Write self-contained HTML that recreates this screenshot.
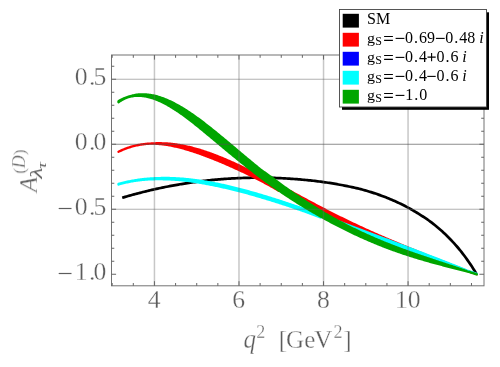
<!DOCTYPE html>
<html><head><meta charset="utf-8"><title>plot</title>
<style>html,body{margin:0;padding:0;background:#fff;}svg{display:block;}text{font-family:"Liberation Serif",serif;}.ax text{stroke:#fff;stroke-width:0.3px;}</style></head><body>
<svg width="500" height="367" viewBox="0 0 500 367">
<rect x="0" y="0" width="500" height="367" fill="#fff"/>
<path d="M122.20,197.79 L123.68,197.35 L125.16,196.91 L126.64,196.48 L128.12,196.05 L129.61,195.63 L131.09,195.21 L132.57,194.80 L134.05,194.39 L135.53,193.99 L137.01,193.60 L138.49,193.21 L139.97,192.82 L141.46,192.44 L142.94,192.06 L144.42,191.69 L145.90,191.33 L147.38,190.97 L148.86,190.61 L150.34,190.26 L151.82,189.92 L153.30,189.58 L154.79,189.24 L156.27,188.91 L157.75,188.59 L159.23,188.27 L160.71,187.95 L162.19,187.64 L163.67,187.33 L165.15,187.03 L166.64,186.74 L168.12,186.45 L169.60,186.16 L171.08,185.88 L172.56,185.60 L174.04,185.33 L175.52,185.07 L177.00,184.80 L178.48,184.55 L179.97,184.29 L181.45,184.05 L182.93,183.81 L184.41,183.57 L185.89,183.33 L187.37,183.11 L188.85,182.88 L190.33,182.67 L191.82,182.45 L193.30,182.24 L194.78,182.04 L196.26,181.84 L197.74,181.64 L199.22,181.45 L200.70,181.27 L202.18,181.09 L203.66,180.91 L205.15,180.74 L206.63,180.58 L208.11,180.41 L209.59,180.26 L211.07,180.11 L212.55,179.96 L214.03,179.81 L215.51,179.68 L216.99,179.54 L218.48,179.41 L219.96,179.29 L221.44,179.17 L222.92,179.06 L224.40,178.95 L225.88,178.84 L227.36,178.74 L228.84,178.64 L230.33,178.55 L231.81,178.46 L233.29,178.38 L234.77,178.30 L236.25,178.23 L237.73,178.16 L239.21,178.10 L240.69,178.04 L242.17,177.99 L243.66,177.94 L245.14,177.89 L246.62,177.85 L248.10,177.81 L249.58,177.78 L251.06,177.76 L252.54,177.73 L254.02,177.72 L255.51,177.70 L256.99,177.69 L258.47,177.69 L259.95,177.69 L261.43,177.70 L262.91,177.71 L264.39,177.72 L265.87,177.74 L267.35,177.77 L268.84,177.79 L270.32,177.83 L271.80,177.86 L273.28,177.91 L274.76,177.95 L276.24,178.01 L277.72,178.06 L279.20,178.12 L280.69,178.19 L282.17,178.26 L283.65,178.33 L285.13,178.41 L286.61,178.50 L288.09,178.59 L289.57,178.68 L291.05,178.78 L292.53,178.88 L294.02,178.99 L295.50,179.10 L296.98,179.22 L298.46,179.34 L299.94,179.46 L301.42,179.59 L302.90,179.72 L304.38,179.85 L305.87,179.99 L307.35,180.14 L308.83,180.29 L310.31,180.44 L311.79,180.60 L313.27,180.77 L314.75,180.94 L316.23,181.11 L317.71,181.30 L319.20,181.48 L320.68,181.67 L322.16,181.87 L323.64,182.08 L325.12,182.29 L326.60,182.50 L328.08,182.72 L329.56,182.95 L331.05,183.19 L332.53,183.43 L334.01,183.67 L335.49,183.93 L336.97,184.19 L338.45,184.46 L339.93,184.73 L341.41,185.01 L342.89,185.30 L344.38,185.60 L345.86,185.89 L347.34,186.17 L348.82,186.47 L350.30,186.77 L351.78,187.08 L353.26,187.40 L354.74,187.73 L356.23,188.07 L357.71,188.42 L359.19,188.77 L360.67,189.15 L362.15,189.55 L363.63,189.95 L365.11,190.37 L366.59,190.80 L368.07,191.24 L369.56,191.69 L371.04,192.15 L372.52,192.62 L374.00,193.10 L375.48,193.59 L376.96,194.09 L378.44,194.61 L379.92,195.13 L381.41,195.67 L382.89,196.22 L384.37,196.78 L385.85,197.35 L387.33,197.94 L388.81,198.54 L390.29,199.15 L391.77,199.78 L393.25,200.42 L394.74,201.07 L396.22,201.74 L397.70,202.42 L399.18,203.12 L400.66,203.83 L402.14,204.56 L403.62,205.30 L405.10,206.06 L406.58,206.84 L408.07,207.63 L409.55,208.44 L411.03,209.26 L412.51,210.11 L413.99,210.97 L415.47,211.85 L416.95,212.76 L418.43,213.68 L419.92,214.62 L421.40,215.55 L422.88,216.49 L424.36,217.46 L425.84,218.44 L427.32,219.46 L428.80,220.49 L430.28,221.56 L431.76,222.69 L433.25,223.84 L434.73,225.01 L436.21,226.22 L437.69,227.45 L439.17,228.71 L440.65,230.01 L442.13,231.33 L443.61,232.69 L445.10,234.08 L446.58,235.50 L448.06,236.96 L449.54,238.46 L451.02,239.99 L452.50,241.56 L453.98,243.17 L455.46,244.82 L456.94,246.51 L458.43,248.25 L459.91,250.02 L461.39,251.89 L462.87,253.81 L464.35,255.78 L465.83,257.80 L467.31,259.86 L468.79,261.98 L470.28,264.14 L471.76,266.36 L473.24,268.64 L474.72,270.97 L476.20,273.35" fill="none" stroke="#000" stroke-width="2.7" stroke-linecap="butt" stroke-linejoin="round"/>
<path d="M118.50,151.78 L119.50,151.29 L120.49,150.82 L121.49,150.36 L122.48,149.92 L123.48,149.50 L124.47,149.09 L125.47,148.70 L126.46,148.33 L127.46,147.97 L128.45,147.63 L129.45,147.30 L130.44,146.99 L131.44,146.69 L132.43,146.40 L133.43,146.14 L134.42,145.88 L135.42,145.64 L136.41,145.41 L137.41,145.20 L138.41,145.00 L139.40,144.82 L140.40,144.64 L141.39,144.48 L142.39,144.33 L143.38,144.20 L144.38,144.08 L145.37,143.97 L146.37,143.87 L147.36,143.78 L148.36,143.71 L149.35,143.64 L150.35,143.59 L151.34,143.53 L152.34,143.47 L153.33,143.41 L154.33,143.36 L155.33,143.33 L156.32,143.30 L157.32,143.29 L158.31,143.28 L159.31,143.29 L160.30,143.30 L161.30,143.31 L162.29,143.33 L163.29,143.36 L164.28,143.40 L165.28,143.45 L166.27,143.51 L167.27,143.57 L168.26,143.65 L169.26,143.73 L170.25,143.82 L171.25,143.92 L172.25,144.03 L173.24,144.15 L174.24,144.27 L175.23,144.41 L176.23,144.55 L177.22,144.69 L178.22,144.85 L179.21,145.01 L180.21,145.18 L181.20,145.36 L182.20,145.55 L183.19,145.74 L184.19,145.94 L185.18,146.15 L186.18,146.36 L187.17,146.58 L188.17,146.81 L189.16,147.04 L190.16,147.28 L191.16,147.53 L192.15,147.78 L193.15,148.04 L194.14,148.30 L195.14,148.57 L196.13,148.85 L197.13,149.13 L198.12,149.42 L199.12,149.72 L200.11,150.02 L201.11,150.33 L202.10,150.64 L203.10,150.96 L204.09,151.29 L205.09,151.62 L206.08,151.96 L207.08,152.30 L208.07,152.64 L209.07,152.99 L210.07,153.35 L211.06,153.71 L212.06,154.08 L213.05,154.45 L214.05,154.82 L215.04,155.20 L216.04,155.58 L217.03,155.97 L218.03,156.36 L219.02,156.75 L220.02,157.15 L221.01,157.56 L222.01,157.96 L223.00,158.38 L224.00,158.79 L224.99,159.21 L225.99,159.63 L226.99,160.06 L227.98,160.48 L228.98,160.92 L229.97,161.35 L230.97,161.79 L231.96,162.23 L232.96,162.68 L233.95,163.13 L234.95,163.58 L235.94,164.03 L236.94,164.49 L237.93,164.95 L238.93,165.41 L239.92,165.87 L240.92,166.34 L241.91,166.81 L242.91,167.28 L243.91,167.76 L244.90,168.23 L245.90,168.71 L246.89,169.19 L247.89,169.68 L248.88,170.16 L249.88,170.65 L250.87,171.13 L251.87,171.61 L252.86,172.10 L253.86,172.58 L254.85,173.07 L255.85,173.56 L256.84,174.05 L257.84,174.54 L258.83,175.04 L259.83,175.53 L260.82,176.03 L261.82,176.53 L262.82,177.02 L263.81,177.52 L264.81,178.03 L265.80,178.53 L266.80,179.03 L267.79,179.54 L268.79,180.04 L269.78,180.55 L270.78,181.06 L271.77,181.56 L272.77,182.07 L273.76,182.58 L274.76,183.09 L275.75,183.60 L276.75,184.11 L277.74,184.63 L278.74,185.14 L279.74,185.65 L280.73,186.16 L281.73,186.68 L282.72,187.19 L283.72,187.71 L284.71,188.22 L285.71,188.73 L286.70,189.25 L287.70,189.76 L288.69,190.28 L289.69,190.79 L290.68,191.32 L291.68,191.86 L292.67,192.40 L293.67,192.94 L294.66,193.48 L295.66,194.02 L296.65,194.56 L297.65,195.10 L298.65,195.64 L299.64,196.17 L300.64,196.71 L301.63,197.25 L302.63,197.78 L303.62,198.32 L304.62,198.86 L305.61,199.39 L306.61,199.93 L307.60,200.46 L308.60,200.99 L309.59,201.52 L310.59,202.06 L311.58,202.59 L312.58,203.12 L313.57,203.65 L314.57,204.18 L315.56,204.70 L316.56,205.23 L317.56,205.76 L318.55,206.28 L319.55,206.81 L320.54,207.33 L321.54,207.85 L322.53,208.37 L323.53,208.89 L324.52,209.41 L325.52,209.93 L326.51,210.45 L327.51,210.97 L328.50,211.48 L329.50,212.00 L330.49,212.50 L331.49,213.00 L332.48,213.51 L333.48,214.00 L334.48,214.50 L335.47,215.00 L336.47,215.50 L337.46,215.99 L338.46,216.48 L339.45,216.97 L340.45,217.46 L341.44,217.95 L342.44,218.44 L343.43,218.93 L344.43,219.41 L345.42,219.90 L346.42,220.38 L347.41,220.86 L348.41,221.34 L349.40,221.82 L350.40,222.30 L351.39,222.77 L352.39,223.24 L353.39,223.72 L354.38,224.19 L355.38,224.66 L356.37,225.13 L357.37,225.59 L358.36,226.06 L359.36,226.52 L360.35,226.98 L361.35,227.45 L362.34,227.91 L363.34,228.36 L364.33,228.82 L365.33,229.28 L366.32,229.73 L367.32,230.18 L368.31,230.63 L369.31,231.08 L370.31,231.53 L371.30,231.98 L372.30,232.42 L373.29,232.86 L374.29,233.31 L375.28,233.75 L376.28,234.19 L377.27,234.62 L378.27,235.06 L379.26,235.50 L380.26,235.93 L381.25,236.36 L382.25,236.79 L383.24,237.22 L384.24,237.65 L385.23,238.08 L386.23,238.50 L387.23,238.93 L388.22,239.35 L389.22,239.77 L390.21,240.19 L391.21,240.61 L392.20,241.03 L393.20,241.44 L394.19,241.86 L395.19,242.27 L396.18,242.69 L397.18,243.10 L398.17,243.51 L399.17,243.92 L400.16,244.33 L401.16,244.75 L402.15,245.17 L403.15,245.59 L404.14,246.00 L405.14,246.42 L406.14,246.83 L407.13,247.25 L408.13,247.66 L409.12,248.07 L410.12,248.49 L411.11,248.90 L412.11,249.30 L413.10,249.71 L414.10,250.12 L415.09,250.53 L416.09,250.93 L417.08,251.34 L418.08,251.74 L419.07,252.15 L420.07,252.55 L421.06,252.95 L422.06,253.36 L423.06,253.76 L424.05,254.16 L425.05,254.56 L426.04,254.96 L427.04,255.36 L428.03,255.76 L429.03,256.16 L430.02,256.56 L431.02,256.94 L432.01,257.33 L433.01,257.72 L434.00,258.11 L435.00,258.50 L435.99,258.89 L436.99,259.27 L437.98,259.66 L438.98,260.05 L439.97,260.44 L440.97,260.83 L441.97,261.21 L442.96,261.60 L443.96,261.99 L444.95,262.37 L445.95,262.74 L446.94,263.12 L447.94,263.50 L448.93,263.88 L449.93,264.25 L450.92,264.63 L451.92,265.01 L452.91,265.39 L453.91,265.77 L454.90,266.15 L455.90,266.53 L456.89,266.92 L457.89,267.30 L458.88,267.68 L459.88,268.07 L460.88,268.45 L461.87,268.84 L462.87,269.23 L463.86,269.62 L464.86,270.01 L465.85,270.40 L466.85,270.79 L467.84,271.15 L468.84,271.48 L469.83,271.81 L470.83,272.14 L471.82,272.48 L472.82,272.82 L473.81,273.15 L474.81,273.49 L475.80,273.83 L476.80,274.18 L476.80,274.18 L475.80,273.83 L474.81,273.49 L473.81,273.15 L472.82,272.82 L471.82,272.48 L470.83,272.14 L469.83,271.81 L468.84,271.48 L467.84,271.15 L466.85,270.79 L465.85,270.40 L464.86,270.01 L463.86,269.62 L462.87,269.23 L461.87,268.84 L460.88,268.45 L459.88,268.07 L458.88,267.68 L457.89,267.30 L456.89,266.92 L455.90,266.53 L454.90,266.15 L453.91,265.77 L452.91,265.39 L451.92,265.01 L450.92,264.63 L449.93,264.25 L448.93,263.88 L447.94,263.50 L446.94,263.12 L445.95,262.74 L444.95,262.37 L443.96,261.99 L442.96,261.63 L441.97,261.26 L440.97,260.90 L439.97,260.54 L438.98,260.17 L437.98,259.81 L436.99,259.44 L435.99,259.08 L435.00,258.72 L434.00,258.35 L433.01,257.99 L432.01,257.62 L431.02,257.26 L430.02,256.90 L429.03,256.52 L428.03,256.15 L427.04,255.77 L426.04,255.40 L425.05,255.02 L424.05,254.64 L423.06,254.27 L422.06,253.89 L421.06,253.51 L420.07,253.13 L419.07,252.75 L418.08,252.37 L417.08,251.99 L416.09,251.61 L415.09,251.23 L414.10,250.85 L413.10,250.46 L412.11,250.08 L411.11,249.69 L410.12,249.31 L409.12,248.92 L408.13,248.53 L407.13,248.14 L406.14,247.75 L405.14,247.36 L404.14,246.97 L403.15,246.58 L402.15,246.18 L401.16,245.79 L400.16,245.39 L399.17,245.01 L398.17,244.62 L397.18,244.23 L396.18,243.85 L395.19,243.46 L394.19,243.07 L393.20,242.68 L392.20,242.29 L391.21,241.89 L390.21,241.50 L389.22,241.10 L388.22,240.70 L387.23,240.30 L386.23,239.90 L385.23,239.50 L384.24,239.10 L383.24,238.70 L382.25,238.29 L381.25,237.88 L380.26,237.48 L379.26,237.07 L378.27,236.66 L377.27,236.24 L376.28,235.83 L375.28,235.41 L374.29,235.00 L373.29,234.58 L372.30,234.16 L371.30,233.74 L370.31,233.32 L369.31,232.89 L368.31,232.47 L367.32,232.04 L366.32,231.61 L365.33,231.18 L364.33,230.75 L363.34,230.32 L362.34,229.89 L361.35,229.45 L360.35,229.01 L359.36,228.58 L358.36,228.14 L357.37,227.70 L356.37,227.25 L355.38,226.81 L354.38,226.36 L353.39,225.92 L352.39,225.47 L351.39,225.02 L350.40,224.57 L349.40,224.11 L348.41,223.66 L347.41,223.20 L346.42,222.75 L345.42,222.29 L344.43,221.83 L343.43,221.37 L342.44,220.91 L341.44,220.44 L340.45,219.98 L339.45,219.51 L338.46,219.04 L337.46,218.57 L336.47,218.10 L335.47,217.63 L334.48,217.16 L333.48,216.69 L332.48,216.21 L331.49,215.73 L330.49,215.26 L329.50,214.77 L328.50,214.28 L327.51,213.79 L326.51,213.30 L325.52,212.81 L324.52,212.31 L323.53,211.82 L322.53,211.32 L321.54,210.82 L320.54,210.33 L319.55,209.83 L318.55,209.33 L317.56,208.83 L316.56,208.32 L315.56,207.82 L314.57,207.32 L313.57,206.81 L312.58,206.31 L311.58,205.80 L310.59,205.29 L309.59,204.79 L308.60,204.28 L307.60,203.77 L306.61,203.26 L305.61,202.75 L304.62,202.24 L303.62,201.73 L302.63,201.21 L301.63,200.70 L300.64,200.19 L299.64,199.68 L298.65,199.16 L297.65,198.65 L296.65,198.13 L295.66,197.62 L294.66,197.10 L293.67,196.59 L292.67,196.07 L291.68,195.56 L290.68,195.04 L289.69,194.54 L288.69,194.05 L287.70,193.56 L286.70,193.06 L285.71,192.57 L284.71,192.08 L283.72,191.59 L282.72,191.10 L281.73,190.61 L280.73,190.12 L279.74,189.64 L278.74,190.74 L277.74,190.15 L276.75,189.56 L275.75,188.97 L274.76,188.39 L273.76,187.82 L272.77,187.25 L271.77,186.68 L270.78,186.12 L269.78,185.56 L268.79,185.01 L267.79,184.46 L266.80,183.91 L265.80,183.37 L264.81,182.83 L263.81,182.30 L262.82,181.77 L261.82,181.24 L260.82,180.72 L259.83,180.20 L258.83,179.68 L257.84,179.16 L256.84,178.65 L255.85,178.14 L254.85,177.64 L253.86,177.14 L252.86,176.64 L251.87,176.14 L250.87,175.65 L249.88,175.16 L248.88,174.67 L247.89,174.18 L246.89,173.70 L245.90,173.22 L244.90,172.74 L243.91,172.27 L242.91,171.79 L241.91,171.32 L240.92,170.86 L239.92,170.39 L238.93,169.93 L237.93,169.47 L236.94,169.01 L235.94,168.55 L234.95,168.10 L233.95,167.65 L232.96,167.20 L231.96,166.75 L230.97,166.30 L229.97,165.86 L228.98,165.42 L227.98,164.98 L226.99,164.55 L225.99,164.12 L224.99,163.69 L224.00,163.26 L223.00,162.83 L222.01,162.41 L221.01,161.99 L220.02,161.57 L219.02,161.16 L218.03,160.74 L217.03,160.33 L216.04,159.92 L215.04,159.52 L214.05,159.12 L213.05,158.72 L212.06,158.32 L211.06,157.93 L210.07,157.54 L209.07,157.15 L208.07,156.77 L207.08,156.39 L206.08,156.01 L205.09,155.64 L204.09,155.26 L203.10,154.90 L202.10,154.53 L201.11,154.17 L200.11,153.82 L199.12,153.47 L198.12,153.12 L197.13,152.77 L196.13,152.43 L195.14,152.10 L194.14,151.77 L193.15,151.44 L192.15,151.12 L191.16,150.80 L190.16,150.49 L189.16,150.18 L188.17,149.88 L187.17,149.58 L186.18,149.29 L185.18,149.00 L184.19,148.72 L183.19,148.44 L182.20,148.17 L181.20,147.91 L180.21,147.65 L179.21,147.40 L178.22,147.15 L177.22,146.92 L176.23,146.68 L175.23,146.46 L174.24,146.24 L173.24,146.03 L172.25,145.83 L171.25,145.63 L170.25,145.44 L169.26,145.26 L168.26,145.09 L167.27,144.93 L166.27,144.77 L165.28,144.62 L164.28,144.49 L163.29,144.36 L162.29,144.24 L161.30,144.12 L160.30,144.02 L159.31,143.93 L158.31,143.85 L157.32,143.78 L156.32,143.72 L155.33,143.67 L154.33,143.63 L153.33,143.60 L152.34,143.58 L151.34,143.57 L150.35,143.59 L149.35,143.64 L148.36,143.71 L147.36,143.78 L146.37,143.87 L145.37,143.97 L144.38,144.08 L143.38,144.20 L142.39,144.33 L141.39,144.48 L140.40,144.64 L139.40,144.82 L138.41,145.00 L137.41,145.20 L136.41,145.41 L135.42,145.64 L134.42,145.88 L133.43,146.14 L132.43,146.40 L131.44,146.69 L130.44,146.99 L129.45,147.30 L128.45,147.63 L127.46,147.97 L126.46,148.33 L125.47,148.70 L124.47,149.09 L123.48,149.50 L122.48,149.92 L121.49,150.36 L120.49,150.82 L119.50,151.29 L118.50,151.78Z" fill="#ff0000" stroke="#ff0000" stroke-width="2.4" stroke-linejoin="round"/>
<path d="M118.50,183.92 L119.50,183.64 L120.49,183.38 L121.49,183.12 L122.48,182.87 L123.48,182.63 L124.47,182.40 L125.47,182.17 L126.46,181.95 L127.46,181.73 L128.45,181.52 L129.45,181.32 L130.44,181.12 L131.44,180.94 L132.43,180.75 L133.43,180.58 L134.42,180.41 L135.42,180.24 L136.41,180.09 L137.41,179.94 L138.41,179.79 L139.40,179.65 L140.40,179.52 L141.39,179.39 L142.39,179.27 L143.38,179.16 L144.38,179.05 L145.37,178.95 L146.37,178.85 L147.36,178.76 L148.36,178.68 L149.35,178.60 L150.35,178.52 L151.34,178.45 L152.34,178.39 L153.33,178.33 L154.33,178.28 L155.33,178.23 L156.32,178.19 L157.32,178.15 L158.31,178.12 L159.31,178.10 L160.30,178.08 L161.30,178.06 L162.29,178.04 L163.29,178.03 L164.28,178.03 L165.28,178.03 L166.27,178.03 L167.27,178.04 L168.26,178.05 L169.26,178.07 L170.25,178.10 L171.25,178.13 L172.25,178.16 L173.24,178.20 L174.24,178.24 L175.23,178.29 L176.23,178.34 L177.22,178.39 L178.22,178.45 L179.21,178.52 L180.21,178.59 L181.20,178.66 L182.20,178.74 L183.19,178.82 L184.19,178.90 L185.18,178.99 L186.18,179.08 L187.17,179.18 L188.17,179.28 L189.16,179.39 L190.16,179.50 L191.16,179.61 L192.15,179.73 L193.15,179.85 L194.14,179.97 L195.14,180.10 L196.13,180.23 L197.13,180.37 L198.12,180.51 L199.12,180.65 L200.11,180.79 L201.11,180.94 L202.10,181.10 L203.10,181.25 L204.09,181.41 L205.09,181.57 L206.08,181.74 L207.08,181.91 L208.07,182.08 L209.07,182.26 L210.07,182.44 L211.06,182.62 L212.06,182.80 L213.05,182.99 L214.05,183.18 L215.04,183.38 L216.04,183.57 L217.03,183.77 L218.03,183.98 L219.02,184.18 L220.02,184.39 L221.01,184.60 L222.01,184.81 L223.00,185.03 L224.00,185.25 L224.99,185.47 L225.99,185.70 L226.99,185.92 L227.98,186.15 L228.98,186.39 L229.97,186.62 L230.97,186.86 L231.96,187.10 L232.96,187.34 L233.95,187.58 L234.95,187.83 L235.94,188.08 L236.94,188.33 L237.93,188.58 L238.93,188.84 L239.92,189.10 L240.92,189.36 L241.91,189.62 L242.91,189.88 L243.91,190.15 L244.90,190.42 L245.90,190.69 L246.89,190.96 L247.89,191.23 L248.88,191.51 L249.88,191.79 L250.87,192.06 L251.87,192.34 L252.86,192.63 L253.86,192.91 L254.85,193.20 L255.85,193.48 L256.84,193.77 L257.84,194.06 L258.83,194.36 L259.83,194.65 L260.82,194.94 L261.82,195.24 L262.82,195.54 L263.81,195.84 L264.81,196.14 L265.80,196.45 L266.80,196.75 L267.79,197.06 L268.79,197.36 L269.78,197.67 L270.78,197.98 L271.77,198.30 L272.77,198.61 L273.76,198.92 L274.76,199.24 L275.75,199.56 L276.75,199.87 L277.74,200.19 L278.74,200.51 L279.74,200.84 L280.73,201.16 L281.73,201.48 L282.72,201.81 L283.72,202.14 L284.71,202.46 L285.71,202.79 L286.70,203.12 L287.70,203.45 L288.69,203.78 L289.69,204.12 L290.68,204.45 L291.68,204.78 L292.67,205.12 L293.67,205.46 L294.66,205.79 L295.66,206.13 L296.65,206.47 L297.65,206.81 L298.65,207.15 L299.64,207.49 L300.64,207.84 L301.63,208.19 L302.63,208.54 L303.62,208.89 L304.62,209.24 L305.61,209.59 L306.61,209.94 L307.60,210.30 L308.60,210.65 L309.59,211.00 L310.59,211.36 L311.58,211.71 L312.58,212.07 L313.57,212.43 L314.57,212.79 L315.56,213.14 L316.56,213.50 L317.56,213.86 L318.55,214.22 L319.55,214.58 L320.54,214.94 L321.54,215.30 L322.53,215.67 L323.53,216.03 L324.52,216.39 L325.52,216.75 L326.51,217.12 L327.51,217.48 L328.50,217.84 L329.50,218.21 L330.49,218.57 L331.49,218.94 L332.48,219.31 L333.48,219.67 L334.48,220.04 L335.47,220.40 L336.47,220.77 L337.46,221.14 L338.46,221.51 L339.45,221.87 L340.45,222.24 L341.44,222.61 L342.44,222.98 L343.43,223.35 L344.43,223.72 L345.42,224.09 L346.42,224.46 L347.41,224.83 L348.41,225.20 L349.40,225.57 L350.40,225.94 L351.39,226.31 L352.39,226.68 L353.39,227.05 L354.38,227.42 L355.38,227.79 L356.37,228.17 L357.37,228.54 L358.36,228.91 L359.36,229.28 L360.35,229.65 L361.35,230.03 L362.34,230.40 L363.34,230.77 L364.33,231.15 L365.33,231.52 L366.32,231.89 L367.32,232.27 L368.31,232.64 L369.31,233.01 L370.31,233.39 L371.30,233.76 L372.30,234.13 L373.29,234.51 L374.29,234.88 L375.28,235.26 L376.28,235.63 L377.27,236.00 L378.27,236.38 L379.26,236.75 L380.26,237.13 L381.25,237.50 L382.25,237.88 L383.24,238.25 L384.24,238.63 L385.23,239.00 L386.23,239.38 L387.23,239.75 L388.22,240.13 L389.22,240.50 L390.21,240.88 L391.21,241.26 L392.20,241.63 L393.20,242.01 L394.19,242.38 L395.19,242.76 L396.18,243.14 L397.18,243.51 L398.17,243.89 L399.17,244.27 L400.16,244.64 L401.16,245.02 L402.15,245.40 L403.15,245.77 L404.14,246.15 L405.14,246.53 L406.14,246.91 L407.13,247.28 L408.13,247.66 L409.12,248.04 L410.12,248.42 L411.11,248.80 L412.11,249.18 L413.10,249.55 L414.10,249.93 L415.09,250.31 L416.09,250.69 L417.08,251.07 L418.08,251.45 L419.07,251.83 L420.07,252.21 L421.06,252.59 L422.06,252.97 L423.06,253.35 L424.05,253.74 L425.05,254.12 L426.04,254.50 L427.04,254.88 L428.03,255.26 L429.03,255.65 L430.02,256.03 L431.02,256.41 L432.01,256.80 L433.01,257.18 L434.00,257.57 L435.00,257.95 L435.99,258.34 L436.99,258.72 L437.98,259.11 L438.98,259.49 L439.97,259.88 L440.97,260.27 L441.97,260.66 L442.96,261.04 L443.96,261.43 L444.95,261.82 L445.95,262.21 L446.94,262.60 L447.94,262.99 L448.93,263.38 L449.93,263.78 L450.92,264.17 L451.92,264.56 L452.91,264.95 L453.91,265.35 L454.90,265.74 L455.90,266.14 L456.89,266.53 L457.89,266.93 L458.88,267.33 L459.88,267.73 L460.88,268.13 L461.87,268.52 L462.87,268.93 L463.86,269.33 L464.86,269.73 L465.85,270.13 L466.85,270.53 L467.84,270.88 L468.84,271.21 L469.83,271.54 L470.83,271.87 L471.82,272.20 L472.82,272.54 L473.81,272.87 L474.81,273.21 L475.80,273.55 L476.80,273.88 L476.80,273.88 L475.80,273.55 L474.81,273.21 L473.81,272.87 L472.82,272.54 L471.82,272.20 L470.83,271.87 L469.83,271.54 L468.84,271.21 L467.84,270.88 L466.85,270.56 L465.85,270.30 L464.86,270.05 L463.86,269.79 L462.87,269.54 L461.87,269.29 L460.88,269.03 L459.88,268.78 L458.88,268.52 L457.89,268.27 L456.89,268.02 L455.90,267.76 L454.90,267.51 L453.91,267.25 L452.91,267.00 L451.92,266.74 L450.92,266.49 L449.93,266.23 L448.93,265.98 L447.94,265.72 L446.94,265.46 L445.95,265.09 L444.95,264.72 L443.96,264.35 L442.96,263.99 L441.97,263.62 L440.97,263.25 L439.97,262.89 L438.98,262.52 L437.98,262.16 L436.99,261.79 L435.99,261.43 L435.00,261.07 L434.00,260.70 L433.01,260.34 L432.01,259.98 L431.02,259.61 L430.02,259.25 L429.03,258.89 L428.03,258.53 L427.04,258.17 L426.04,257.81 L425.05,257.45 L424.05,257.09 L423.06,256.73 L422.06,256.37 L421.06,256.01 L420.07,255.65 L419.07,255.29 L418.08,254.94 L417.08,254.58 L416.09,254.22 L415.09,253.86 L414.10,253.50 L413.10,253.15 L412.11,252.79 L411.11,252.43 L410.12,252.08 L409.12,251.72 L408.13,251.36 L407.13,251.01 L406.14,250.65 L405.14,250.29 L404.14,249.94 L403.15,249.58 L402.15,249.23 L401.16,248.87 L400.16,248.52 L399.17,248.16 L398.17,247.81 L397.18,247.45 L396.18,247.10 L395.19,246.74 L394.19,246.39 L393.20,246.03 L392.20,245.68 L391.21,245.33 L390.21,244.97 L389.22,244.62 L388.22,244.26 L387.23,243.91 L386.23,243.56 L385.23,243.20 L384.24,242.85 L383.24,242.50 L382.25,242.14 L381.25,241.79 L380.26,241.44 L379.26,241.08 L378.27,240.73 L377.27,240.38 L376.28,240.03 L375.28,239.67 L374.29,239.32 L373.29,238.97 L372.30,238.62 L371.30,238.26 L370.31,237.91 L369.31,237.56 L368.31,237.21 L367.32,236.86 L366.32,236.50 L365.33,236.15 L364.33,235.80 L363.34,235.45 L362.34,235.10 L361.35,234.75 L360.35,234.40 L359.36,234.05 L358.36,233.70 L357.37,233.35 L356.37,233.00 L355.38,232.65 L354.38,232.30 L353.39,231.95 L352.39,231.60 L351.39,231.25 L350.40,230.90 L349.40,230.55 L348.41,230.18 L347.41,229.69 L346.42,229.21 L345.42,228.71 L344.43,228.22 L343.43,227.72 L342.44,227.22 L341.44,226.72 L340.45,226.21 L339.45,225.71 L338.46,225.20 L337.46,224.68 L336.47,224.17 L335.47,223.65 L334.48,223.13 L333.48,222.61 L332.48,222.08 L331.49,221.55 L330.49,221.02 L329.50,220.49 L328.50,219.96 L327.51,219.42 L326.51,218.88 L325.52,218.34 L324.52,217.79 L323.53,217.24 L322.53,216.69 L321.54,216.14 L320.54,217.45 L319.55,217.06 L318.55,216.67 L317.56,216.29 L316.56,215.91 L315.56,215.52 L314.57,215.15 L313.57,214.77 L312.58,214.40 L311.58,214.02 L310.59,213.66 L309.59,213.29 L308.60,212.92 L307.60,212.56 L306.61,212.20 L305.61,211.84 L304.62,211.48 L303.62,211.13 L302.63,210.77 L301.63,210.42 L300.64,210.07 L299.64,209.72 L298.65,209.37 L297.65,209.02 L296.65,208.68 L295.66,208.33 L294.66,207.99 L293.67,207.65 L292.67,207.31 L291.68,206.97 L290.68,206.63 L289.69,206.30 L288.69,205.96 L287.70,205.63 L286.70,205.30 L285.71,204.97 L284.71,204.64 L283.72,204.32 L282.72,203.99 L281.73,203.67 L280.73,203.35 L279.74,203.03 L278.74,202.71 L277.74,202.39 L276.75,202.07 L275.75,201.76 L274.76,201.44 L273.76,201.13 L272.77,200.82 L271.77,200.51 L270.78,200.20 L269.78,199.89 L268.79,199.59 L267.79,199.28 L266.80,198.98 L265.80,198.68 L264.81,198.38 L263.81,198.08 L262.82,197.78 L261.82,197.48 L260.82,197.19 L259.83,196.89 L258.83,196.60 L257.84,196.31 L256.84,196.01 L255.85,195.73 L254.85,195.44 L253.86,195.15 L252.86,194.87 L251.87,194.58 L250.87,194.30 L249.88,194.02 L248.88,193.74 L247.89,193.46 L246.89,193.18 L245.90,192.90 L244.90,192.63 L243.91,192.36 L242.91,192.09 L241.91,191.82 L240.92,191.55 L239.92,191.28 L238.93,191.03 L237.93,190.78 L236.94,190.53 L235.94,190.29 L234.95,190.04 L233.95,189.80 L232.96,189.56 L231.96,189.32 L230.97,189.08 L229.97,188.84 L228.98,188.61 L227.98,188.38 L226.99,188.14 L225.99,187.91 L224.99,187.69 L224.00,187.46 L223.00,187.24 L222.01,187.02 L221.01,186.80 L220.02,186.58 L219.02,186.36 L218.03,186.15 L217.03,185.94 L216.04,185.73 L215.04,185.52 L214.05,185.32 L213.05,185.11 L212.06,184.91 L211.06,184.71 L210.07,184.52 L209.07,184.32 L208.07,184.13 L207.08,183.95 L206.08,183.76 L205.09,183.58 L204.09,183.40 L203.10,183.22 L202.10,183.04 L201.11,182.87 L200.11,182.70 L199.12,182.53 L198.12,182.37 L197.13,182.21 L196.13,182.05 L195.14,181.89 L194.14,181.74 L193.15,181.59 L192.15,181.45 L191.16,181.31 L190.16,181.17 L189.16,181.04 L188.17,180.92 L187.17,180.80 L186.18,180.69 L185.18,180.57 L184.19,180.47 L183.19,180.36 L182.20,180.26 L181.20,180.17 L180.21,180.07 L179.21,179.99 L178.22,179.90 L177.22,179.82 L176.23,179.75 L175.23,179.68 L174.24,179.61 L173.24,179.55 L172.25,179.49 L171.25,179.43 L170.25,179.38 L169.26,179.34 L168.26,179.30 L167.27,179.27 L166.27,179.24 L165.28,179.21 L164.28,179.19 L163.29,179.18 L162.29,179.17 L161.30,179.16 L160.30,179.16 L159.31,179.16 L158.31,179.15 L157.32,179.15 L156.32,179.16 L155.33,179.17 L154.33,179.19 L153.33,179.21 L152.34,179.24 L151.34,179.28 L150.35,179.32 L149.35,179.37 L148.36,179.42 L147.36,179.49 L146.37,179.55 L145.37,179.63 L144.38,179.71 L143.38,179.80 L142.39,179.89 L141.39,179.99 L140.40,180.10 L139.40,180.22 L138.41,180.34 L137.41,180.47 L136.41,180.61 L135.42,180.76 L134.42,180.91 L133.43,181.08 L132.43,181.24 L131.44,181.42 L130.44,181.61 L129.45,181.80 L128.45,182.00 L127.46,182.22 L126.46,182.43 L125.47,182.66 L124.47,182.90 L123.48,183.14 L122.48,183.40 L121.49,183.66 L120.49,183.94 L119.50,184.22 L118.50,184.51Z" fill="#00ffff" stroke="#00ffff" stroke-width="2.4" stroke-linejoin="round"/>
<path d="M118.50,101.22 L119.50,100.64 L120.49,100.09 L121.49,99.57 L122.48,99.08 L123.48,98.62 L124.47,98.19 L125.47,97.79 L126.46,97.41 L127.46,97.05 L128.45,96.70 L129.45,96.37 L130.44,96.07 L131.44,95.79 L132.43,95.54 L133.43,95.32 L134.42,95.12 L135.42,94.94 L136.41,94.79 L137.41,94.66 L138.41,94.56 L139.40,94.48 L140.40,94.42 L141.39,94.38 L142.39,94.37 L143.38,94.37 L144.38,94.40 L145.37,94.45 L146.37,94.52 L147.36,94.61 L148.36,94.71 L149.35,94.84 L150.35,94.99 L151.34,95.16 L152.34,95.34 L153.33,95.54 L154.33,95.76 L155.33,96.00 L156.32,96.26 L157.32,96.53 L158.31,96.81 L159.31,97.12 L160.30,97.44 L161.30,97.77 L162.29,98.13 L163.29,98.49 L164.28,98.87 L165.28,99.27 L166.27,99.68 L167.27,100.10 L168.26,100.53 L169.26,100.98 L170.25,101.45 L171.25,101.92 L172.25,102.41 L173.24,102.91 L174.24,103.42 L175.23,103.94 L176.23,104.47 L177.22,105.02 L178.22,105.58 L179.21,106.14 L180.21,106.72 L181.20,107.30 L182.20,107.90 L183.19,108.51 L184.19,109.12 L185.18,109.74 L186.18,110.38 L187.17,111.02 L188.17,111.67 L189.16,112.33 L190.16,112.99 L191.16,113.66 L192.15,114.34 L193.15,115.03 L194.14,115.73 L195.14,116.43 L196.13,117.13 L197.13,117.85 L198.12,118.57 L199.12,119.29 L200.11,120.03 L201.11,120.78 L202.10,121.53 L203.10,122.29 L204.09,123.06 L205.09,123.83 L206.08,124.60 L207.08,125.38 L208.07,126.16 L209.07,126.95 L210.07,127.74 L211.06,128.53 L212.06,129.33 L213.05,130.13 L214.05,130.93 L215.04,131.74 L216.04,132.55 L217.03,133.36 L218.03,134.18 L219.02,135.00 L220.02,135.82 L221.01,136.64 L222.01,137.46 L223.00,138.29 L224.00,139.12 L224.99,139.94 L225.99,140.77 L226.99,141.61 L227.98,142.44 L228.98,143.27 L229.97,144.11 L230.97,144.94 L231.96,145.78 L232.96,146.61 L233.95,147.45 L234.95,148.29 L235.94,149.12 L236.94,149.96 L237.93,150.80 L238.93,151.63 L239.92,152.47 L240.92,153.30 L241.91,154.14 L242.91,154.97 L243.91,155.81 L244.90,156.64 L245.90,157.47 L246.89,158.30 L247.89,159.13 L248.88,159.96 L249.88,160.79 L250.87,161.61 L251.87,162.44 L252.86,163.26 L253.86,164.08 L254.85,164.90 L255.85,165.72 L256.84,166.53 L257.84,167.34 L258.83,168.16 L259.83,168.96 L260.82,169.71 L261.82,170.43 L262.82,171.15 L263.81,171.87 L264.81,172.59 L265.80,173.31 L266.80,174.02 L267.79,174.73 L268.79,175.44 L269.78,176.14 L270.78,176.84 L271.77,177.54 L272.77,178.28 L273.76,179.03 L274.76,179.78 L275.75,180.53 L276.75,181.27 L277.74,182.01 L278.74,182.75 L279.74,183.48 L280.73,184.22 L281.73,184.94 L282.72,185.67 L283.72,186.39 L284.71,187.11 L285.71,187.82 L286.70,188.53 L287.70,189.24 L288.69,189.94 L289.69,190.64 L290.68,191.34 L291.68,192.03 L292.67,192.72 L293.67,193.41 L294.66,194.09 L295.66,194.77 L296.65,195.45 L297.65,196.12 L298.65,196.79 L299.64,197.46 L300.64,198.13 L301.63,198.79 L302.63,199.46 L303.62,200.12 L304.62,200.77 L305.61,201.42 L306.61,202.07 L307.60,202.72 L308.60,203.36 L309.59,204.00 L310.59,204.63 L311.58,205.27 L312.58,205.89 L313.57,206.52 L314.57,207.14 L315.56,207.76 L316.56,208.37 L317.56,208.98 L318.55,209.59 L319.55,210.19 L320.54,210.79 L321.54,211.39 L322.53,211.98 L323.53,212.57 L324.52,213.16 L325.52,213.74 L326.51,214.32 L327.51,214.90 L328.50,215.47 L329.50,216.04 L330.49,216.61 L331.49,217.17 L332.48,217.73 L333.48,218.28 L334.48,218.84 L335.47,219.39 L336.47,219.93 L337.46,220.47 L338.46,221.01 L339.45,221.55 L340.45,222.08 L341.44,222.61 L342.44,223.14 L343.43,223.66 L344.43,224.18 L345.42,224.70 L346.42,225.21 L347.41,225.72 L348.41,226.22 L349.40,226.73 L350.40,227.23 L351.39,227.72 L352.39,228.22 L353.39,228.71 L354.38,229.20 L355.38,229.68 L356.37,230.16 L357.37,230.64 L358.36,231.12 L359.36,231.59 L360.35,232.06 L361.35,232.53 L362.34,232.99 L363.34,233.45 L364.33,233.91 L365.33,234.36 L366.32,234.81 L367.32,235.26 L368.31,235.71 L369.31,236.15 L370.31,236.59 L371.30,237.03 L372.30,237.47 L373.29,237.90 L374.29,238.33 L375.28,238.76 L376.28,239.18 L377.27,239.60 L378.27,240.02 L379.26,240.44 L380.26,240.86 L381.25,241.27 L382.25,241.68 L383.24,242.08 L384.24,242.49 L385.23,242.89 L386.23,243.29 L387.23,243.69 L388.22,244.08 L389.22,244.48 L390.21,244.87 L391.21,245.25 L392.20,245.64 L393.20,246.03 L394.19,246.41 L395.19,246.79 L396.18,247.17 L397.18,247.54 L398.17,247.92 L399.17,248.29 L400.16,248.66 L401.16,249.03 L402.15,249.39 L403.15,249.76 L404.14,250.12 L405.14,250.48 L406.14,250.84 L407.13,251.20 L408.13,251.55 L409.12,251.91 L410.12,252.26 L411.11,252.61 L412.11,252.96 L413.10,253.31 L414.10,253.66 L415.09,254.01 L416.09,254.35 L417.08,254.69 L418.08,255.04 L419.07,255.38 L420.07,255.72 L421.06,256.06 L422.06,256.39 L423.06,256.73 L424.05,257.07 L425.05,257.40 L426.04,257.73 L427.04,258.07 L428.03,258.40 L429.03,258.73 L430.02,259.06 L431.02,259.39 L432.01,259.72 L433.01,260.05 L434.00,260.38 L435.00,260.71 L435.99,261.04 L436.99,261.36 L437.98,261.69 L438.98,262.02 L439.97,262.34 L440.97,262.67 L441.97,263.00 L442.96,263.32 L443.96,263.65 L444.95,263.97 L445.95,264.30 L446.94,264.63 L447.94,264.95 L448.93,265.28 L449.93,265.61 L450.92,265.93 L451.92,266.26 L452.91,266.59 L453.91,266.92 L454.90,267.25 L455.90,267.58 L456.89,267.91 L457.89,268.24 L458.88,268.57 L459.88,268.91 L460.88,269.24 L461.87,269.58 L462.87,269.91 L463.86,270.25 L464.86,270.59 L465.85,270.93 L466.85,271.27 L467.84,271.61 L468.84,271.91 L469.83,272.21 L470.83,272.52 L471.82,272.82 L472.82,273.12 L473.81,273.43 L474.81,273.74 L475.80,274.05 L476.80,274.36 L476.80,274.36 L475.80,274.05 L474.81,273.74 L473.81,273.43 L472.82,273.12 L471.82,272.82 L470.83,272.52 L469.83,272.21 L468.84,271.91 L467.84,271.61 L466.85,271.36 L465.85,271.10 L464.86,270.85 L463.86,270.59 L462.87,270.34 L461.87,270.09 L460.88,269.83 L459.88,269.58 L458.88,269.32 L457.89,269.07 L456.89,268.82 L455.90,268.56 L454.90,268.31 L453.91,268.05 L452.91,267.80 L451.92,267.54 L450.92,267.29 L449.93,267.03 L448.93,266.78 L447.94,266.52 L446.94,266.26 L445.95,266.00 L444.95,265.74 L443.96,265.48 L442.96,265.22 L441.97,264.96 L440.97,264.69 L439.97,264.43 L438.98,264.16 L437.98,263.90 L436.99,263.63 L435.99,263.36 L435.00,263.09 L434.00,262.82 L433.01,262.54 L432.01,262.27 L431.02,261.99 L430.02,261.72 L429.03,261.44 L428.03,261.15 L427.04,260.87 L426.04,260.59 L425.05,260.30 L424.05,260.01 L423.06,259.72 L422.06,259.43 L421.06,259.14 L420.07,258.84 L419.07,258.54 L418.08,258.25 L417.08,257.94 L416.09,257.64 L415.09,257.33 L414.10,257.03 L413.10,256.72 L412.11,256.40 L411.11,256.09 L410.12,255.77 L409.12,255.45 L408.13,255.13 L407.13,254.81 L406.14,254.48 L405.14,254.15 L404.14,253.82 L403.15,253.49 L402.15,253.15 L401.16,252.81 L400.16,252.47 L399.17,252.13 L398.17,251.78 L397.18,251.43 L396.18,251.08 L395.19,250.73 L394.19,250.37 L393.20,250.01 L392.20,249.65 L391.21,249.29 L390.21,248.92 L389.22,248.55 L388.22,248.18 L387.23,247.80 L386.23,247.42 L385.23,247.04 L384.24,246.66 L383.24,246.27 L382.25,245.88 L381.25,245.49 L380.26,245.10 L379.26,244.70 L378.27,244.30 L377.27,243.90 L376.28,243.49 L375.28,243.08 L374.29,242.67 L373.29,242.26 L372.30,241.84 L371.30,241.42 L370.31,240.99 L369.31,240.57 L368.31,240.14 L367.32,239.71 L366.32,239.27 L365.33,238.84 L364.33,238.40 L363.34,237.96 L362.34,237.51 L361.35,237.06 L360.35,236.61 L359.36,236.16 L358.36,235.70 L357.37,235.24 L356.37,234.78 L355.38,234.31 L354.38,233.85 L353.39,233.37 L352.39,232.90 L351.39,232.43 L350.40,231.95 L349.40,231.47 L348.41,230.98 L347.41,230.49 L346.42,230.01 L345.42,229.51 L344.43,229.02 L343.43,228.52 L342.44,228.02 L341.44,227.52 L340.45,227.01 L339.45,226.51 L338.46,226.00 L337.46,225.48 L336.47,224.97 L335.47,224.45 L334.48,223.93 L333.48,223.41 L332.48,222.88 L331.49,222.35 L330.49,221.82 L329.50,221.29 L328.50,220.76 L327.51,220.22 L326.51,219.68 L325.52,219.14 L324.52,218.59 L323.53,218.04 L322.53,217.49 L321.54,216.94 L320.54,216.38 L319.55,215.83 L318.55,215.27 L317.56,214.70 L316.56,214.14 L315.56,213.57 L314.57,213.00 L313.57,212.42 L312.58,211.85 L311.58,211.27 L310.59,210.69 L309.59,210.10 L308.60,209.52 L307.60,208.93 L306.61,208.34 L305.61,207.74 L304.62,207.14 L303.62,206.54 L302.63,205.94 L301.63,205.33 L300.64,204.72 L299.64,204.11 L298.65,203.49 L297.65,202.86 L296.65,202.24 L295.66,201.61 L294.66,200.97 L293.67,200.34 L292.67,199.70 L291.68,199.05 L290.68,198.41 L289.69,197.76 L288.69,197.11 L287.70,196.45 L286.70,195.79 L285.71,195.13 L284.71,194.47 L283.72,193.80 L282.72,193.13 L281.73,192.45 L280.73,191.77 L279.74,191.09 L278.74,190.41 L277.74,189.72 L276.75,189.02 L275.75,188.33 L274.76,187.63 L273.76,186.93 L272.77,186.22 L271.77,185.52 L270.78,184.80 L269.78,184.09 L268.79,183.37 L267.79,182.65 L266.80,181.92 L265.80,181.20 L264.81,180.47 L263.81,179.73 L262.82,178.99 L261.82,178.25 L260.82,177.51 L259.83,176.76 L258.83,176.01 L257.84,175.25 L256.84,174.49 L255.85,173.73 L254.85,172.96 L253.86,172.19 L252.86,171.42 L251.87,170.65 L250.87,169.87 L249.88,169.09 L248.88,168.31 L247.89,167.52 L246.89,166.74 L245.90,165.95 L244.90,165.15 L243.91,164.36 L242.91,163.56 L241.91,162.76 L240.92,161.96 L239.92,161.16 L238.93,160.35 L237.93,159.55 L236.94,158.74 L235.94,157.93 L234.95,157.12 L233.95,156.30 L232.96,155.49 L231.96,154.67 L230.97,153.85 L229.97,153.03 L228.98,152.21 L227.98,151.38 L226.99,150.56 L225.99,149.73 L224.99,148.90 L224.00,148.08 L223.00,147.25 L222.01,146.42 L221.01,145.59 L220.02,144.76 L219.02,143.93 L218.03,143.09 L217.03,142.26 L216.04,141.43 L215.04,140.60 L214.05,139.77 L213.05,138.94 L212.06,138.11 L211.06,137.28 L210.07,136.45 L209.07,135.62 L208.07,134.79 L207.08,133.96 L206.08,133.14 L205.09,132.32 L204.09,131.49 L203.10,130.67 L202.10,129.85 L201.11,129.04 L200.11,128.22 L199.12,127.41 L198.12,126.60 L197.13,125.80 L196.13,125.00 L195.14,124.20 L194.14,123.40 L193.15,122.61 L192.15,121.82 L191.16,121.04 L190.16,120.26 L189.16,119.49 L188.17,118.72 L187.17,117.96 L186.18,117.22 L185.18,116.50 L184.19,115.78 L183.19,115.06 L182.20,114.36 L181.20,113.66 L180.21,112.97 L179.21,112.28 L178.22,111.61 L177.22,110.94 L176.23,110.29 L175.23,109.64 L174.24,109.00 L173.24,108.37 L172.25,107.75 L171.25,107.14 L170.25,106.54 L169.26,105.96 L168.26,105.38 L167.27,104.82 L166.27,104.27 L165.28,103.73 L164.28,103.21 L163.29,102.70 L162.29,102.21 L161.30,101.73 L160.30,101.26 L159.31,100.81 L158.31,100.38 L157.32,99.96 L156.32,99.56 L155.33,99.17 L154.33,98.81 L153.33,98.46 L152.34,98.13 L151.34,97.82 L150.35,97.53 L149.35,97.26 L148.36,97.00 L147.36,96.77 L146.37,96.56 L145.37,96.37 L144.38,96.21 L143.38,96.06 L142.39,95.95 L141.39,95.85 L140.40,95.78 L139.40,95.74 L138.41,95.72 L137.41,95.73 L136.41,95.76 L135.42,95.83 L134.42,95.92 L133.43,96.04 L132.43,96.19 L131.44,96.37 L130.44,96.58 L129.45,96.83 L128.45,97.10 L127.46,97.41 L126.46,97.78 L125.47,98.20 L124.47,98.66 L123.48,99.16 L122.48,99.69 L121.49,100.26 L120.49,100.86 L119.50,101.50 L118.50,102.18Z" fill="#00a600" stroke="#00a600" stroke-width="2.4" stroke-linejoin="round"/>
<line x1="154.45" y1="55.0" x2="154.45" y2="285.8" stroke="rgba(102,102,102,0.37)" stroke-width="1.5"/>
<line x1="238.99" y1="55.0" x2="238.99" y2="285.8" stroke="rgba(102,102,102,0.37)" stroke-width="1.5"/>
<line x1="323.53" y1="55.0" x2="323.53" y2="285.8" stroke="rgba(102,102,102,0.37)" stroke-width="1.5"/>
<line x1="408.07" y1="55.0" x2="408.07" y2="285.8" stroke="rgba(102,102,102,0.37)" stroke-width="1.5"/>
<line x1="111.5" y1="79.25" x2="484.0" y2="79.25" stroke="rgba(102,102,102,0.50)" stroke-width="1"/>
<line x1="111.5" y1="209.25" x2="484.0" y2="209.25" stroke="rgba(102,102,102,0.50)" stroke-width="1"/>
<line x1="111.5" y1="144.25" x2="484.0" y2="144.25" stroke="rgba(80,80,80,0.65)" stroke-width="1"/>
<rect x="111.5" y="55.0" width="372.5" height="230.8" fill="none" stroke="#727272" stroke-width="1"/>
<path d="M112.18,285.8 v-2.8 M112.18,55.0 v2.8 M133.31,285.8 v-2.8 M133.31,55.0 v2.8 M154.45,285.8 v-4.6 M154.45,55.0 v4.6 M175.58,285.8 v-2.8 M175.58,55.0 v2.8 M196.72,285.8 v-2.8 M196.72,55.0 v2.8 M217.85,285.8 v-2.8 M217.85,55.0 v2.8 M238.99,285.8 v-4.6 M238.99,55.0 v4.6 M260.12,285.8 v-2.8 M260.12,55.0 v2.8 M281.26,285.8 v-2.8 M281.26,55.0 v2.8 M302.39,285.8 v-2.8 M302.39,55.0 v2.8 M323.53,285.8 v-4.6 M323.53,55.0 v4.6 M344.66,285.8 v-2.8 M344.66,55.0 v2.8 M365.80,285.8 v-2.8 M365.80,55.0 v2.8 M386.94,285.8 v-2.8 M386.94,55.0 v2.8 M408.07,285.8 v-4.6 M408.07,55.0 v4.6 M429.20,285.8 v-2.8 M429.20,55.0 v2.8 M450.34,285.8 v-2.8 M450.34,55.0 v2.8 M471.48,285.8 v-2.8 M471.48,55.0 v2.8 M111.5,274.25 h4.6 M484.0,274.25 h-4.6 M111.5,261.25 h2.8 M484.0,261.25 h-2.8 M111.5,248.25 h2.8 M484.0,248.25 h-2.8 M111.5,235.25 h2.8 M484.0,235.25 h-2.8 M111.5,222.25 h2.8 M484.0,222.25 h-2.8 M111.5,209.25 h4.6 M484.0,209.25 h-4.6 M111.5,196.25 h2.8 M484.0,196.25 h-2.8 M111.5,183.25 h2.8 M484.0,183.25 h-2.8 M111.5,170.25 h2.8 M484.0,170.25 h-2.8 M111.5,157.25 h2.8 M484.0,157.25 h-2.8 M111.5,144.25 h4.6 M484.0,144.25 h-4.6 M111.5,131.25 h2.8 M484.0,131.25 h-2.8 M111.5,118.25 h2.8 M484.0,118.25 h-2.8 M111.5,105.25 h2.8 M484.0,105.25 h-2.8 M111.5,92.25 h2.8 M484.0,92.25 h-2.8 M111.5,79.25 h4.6 M484.0,79.25 h-4.6 M111.5,66.25 h2.8 M484.0,66.25 h-2.8" stroke="#666666" stroke-width="1" fill="none"/>
<g class="ax" style="will-change:transform">
<text y="84.80" font-size="25.7" fill="#5c5c5c"><tspan x="74.7">0</tspan><tspan x="89.1">.</tspan><tspan x="93.5">5</tspan></text>
<text y="149.80" font-size="25.7" fill="#5c5c5c"><tspan x="74.7">0</tspan><tspan x="89.1">.</tspan><tspan x="93.5">0</tspan></text>
<text y="214.80" font-size="25.7" fill="#5c5c5c"><tspan x="74.7">0</tspan><tspan x="89.1">.</tspan><tspan x="93.5">5</tspan></text>
<path d="M58.7,208.50 H71.5" stroke="#5c5c5c" stroke-width="1.2" fill="none"/>
<text y="279.80" font-size="25.7" fill="#5c5c5c"><tspan x="74.7">1</tspan><tspan x="89.1">.</tspan><tspan x="93.5">0</tspan></text>
<path d="M58.7,273.50 H71.5" stroke="#5c5c5c" stroke-width="1.2" fill="none"/>
<text x="154.25" y="307.8" font-size="25.7" fill="#5c5c5c" text-anchor="middle">4</text>
<text x="238.79" y="307.8" font-size="25.7" fill="#5c5c5c" text-anchor="middle">6</text>
<text x="323.33" y="307.8" font-size="25.7" fill="#5c5c5c" text-anchor="middle">8</text>
<text x="407.87" y="307.8" font-size="25.7" fill="#5c5c5c" text-anchor="middle">10</text>
<text x="243.4" y="0" font-size="25" fill="#5c5c5c" font-style="italic" transform="translate(0,348.3) scale(1,1.07)">q</text>
<text y="338.3" font-size="18" fill="#5c5c5c"><tspan x="256.3">2</tspan><tspan x="333.4">2</tspan></text>
<text y="347.8" font-size="25" fill="#5c5c5c"><tspan x="278.65">[</tspan><tspan x="286.0">G</tspan><tspan x="304.2">e</tspan><tspan x="314.2">V</tspan><tspan x="343.3">]</tspan></text>
<g transform="translate(37.0,192.2) rotate(-90)" fill="#5c5c5c"><text x="0" y="0" font-size="25" font-style="italic">A</text><text y="-12.1" font-size="17"><tspan x="18.6">(</tspan><tspan x="24.0" font-size="17.8" font-style="italic">D</tspan><tspan x="37.0">)</tspan></text><text x="0" y="0" font-size="16" font-style="italic" style="stroke:none" transform="translate(13.6,4.9) scale(1.6,1)">λ</text><text x="0" y="0" font-size="13" font-style="italic" style="stroke:none" transform="translate(23.6,8.5) scale(1.4,1)">τ</text></g>
</g>
<rect x="342.0" y="12.3" width="147" height="97.5" fill="#000"/>
<rect x="339.5" y="9.5" width="147" height="97.5" fill="#fff" stroke="#444" stroke-width="0.9"/>
<rect x="342.7" y="13.8" width="16.2" height="13.8" fill="#000000"/>
<rect x="342.7" y="32.8" width="16.2" height="13.8" fill="#ff0000"/>
<rect x="342.7" y="51.8" width="16.2" height="13.8" fill="#0000ff"/>
<rect x="342.7" y="70.8" width="16.2" height="13.8" fill="#00ffff"/>
<rect x="342.7" y="89.8" width="16.2" height="13.8" fill="#00a600"/>
<g style="will-change:transform">
<text x="367.1" y="23.5" font-size="16" fill="#000">SM</text>
<text x="0" y="0" font-size="16" fill="#000" transform="translate(367.1,42.5) scale(1,0.92)">g</text><text x="375.3" y="45.3" font-size="12" fill="#000">S</text><text y="42.5" font-size="16" fill="#000"><tspan x="405.00">0</tspan><tspan x="414.00">.</tspan><tspan x="419.00">6</tspan><tspan x="427.00">9</tspan><tspan x="445.20">0</tspan><tspan x="454.20">.</tspan><tspan x="459.20">4</tspan><tspan x="467.20">8</tspan><tspan x="479.3" font-style="italic">i</tspan></text><path d="M384.10,36.50 h8.8 M384.10,40.40 h8.8" stroke="#000" stroke-width="1.1" fill="none"/><path d="M395.60,38.40 h8.8" stroke="#000" stroke-width="1.1" fill="none"/><path d="M435.90,38.40 h8.8" stroke="#000" stroke-width="1.1" fill="none"/>
<text x="0" y="0" font-size="16" fill="#000" transform="translate(367.1,61.5) scale(1,0.92)">g</text><text x="375.3" y="64.3" font-size="12" fill="#000">S</text><text y="61.5" font-size="16" fill="#000"><tspan x="405.00">0</tspan><tspan x="414.00">.</tspan><tspan x="419.00">4</tspan><tspan x="436.50">0</tspan><tspan x="445.50">.</tspan><tspan x="450.50">6</tspan><tspan x="462.3" font-style="italic">i</tspan></text><path d="M384.10,55.50 h8.8 M384.10,59.40 h8.8" stroke="#000" stroke-width="1.1" fill="none"/><path d="M395.60,57.40 h8.8" stroke="#000" stroke-width="1.1" fill="none"/><path d="M427.50,57.10 h8.2 M431.60,53.00 v8.2" stroke="#000" stroke-width="1.1" fill="none"/>
<text x="0" y="0" font-size="16" fill="#000" transform="translate(367.1,80.5) scale(1,0.92)">g</text><text x="375.3" y="83.3" font-size="12" fill="#000">S</text><text y="80.5" font-size="16" fill="#000"><tspan x="405.00">0</tspan><tspan x="414.00">.</tspan><tspan x="419.00">4</tspan><tspan x="436.50">0</tspan><tspan x="445.50">.</tspan><tspan x="450.50">6</tspan><tspan x="462.3" font-style="italic">i</tspan></text><path d="M384.10,74.50 h8.8 M384.10,78.40 h8.8" stroke="#000" stroke-width="1.1" fill="none"/><path d="M395.60,76.40 h8.8" stroke="#000" stroke-width="1.1" fill="none"/><path d="M427.30,76.40 h8.4" stroke="#000" stroke-width="1.1" fill="none"/>
<text x="0" y="0" font-size="16" fill="#000" transform="translate(367.1,99.5) scale(1,0.92)">g</text><text x="375.3" y="102.3" font-size="12" fill="#000">S</text><text y="99.5" font-size="16" fill="#000"><tspan x="405.20">1</tspan><tspan x="414.20">.</tspan><tspan x="419.20">0</tspan></text><path d="M384.10,93.50 h8.8 M384.10,97.40 h8.8" stroke="#000" stroke-width="1.1" fill="none"/><path d="M395.60,95.40 h8.8" stroke="#000" stroke-width="1.1" fill="none"/>
</g>
</svg></body></html>
